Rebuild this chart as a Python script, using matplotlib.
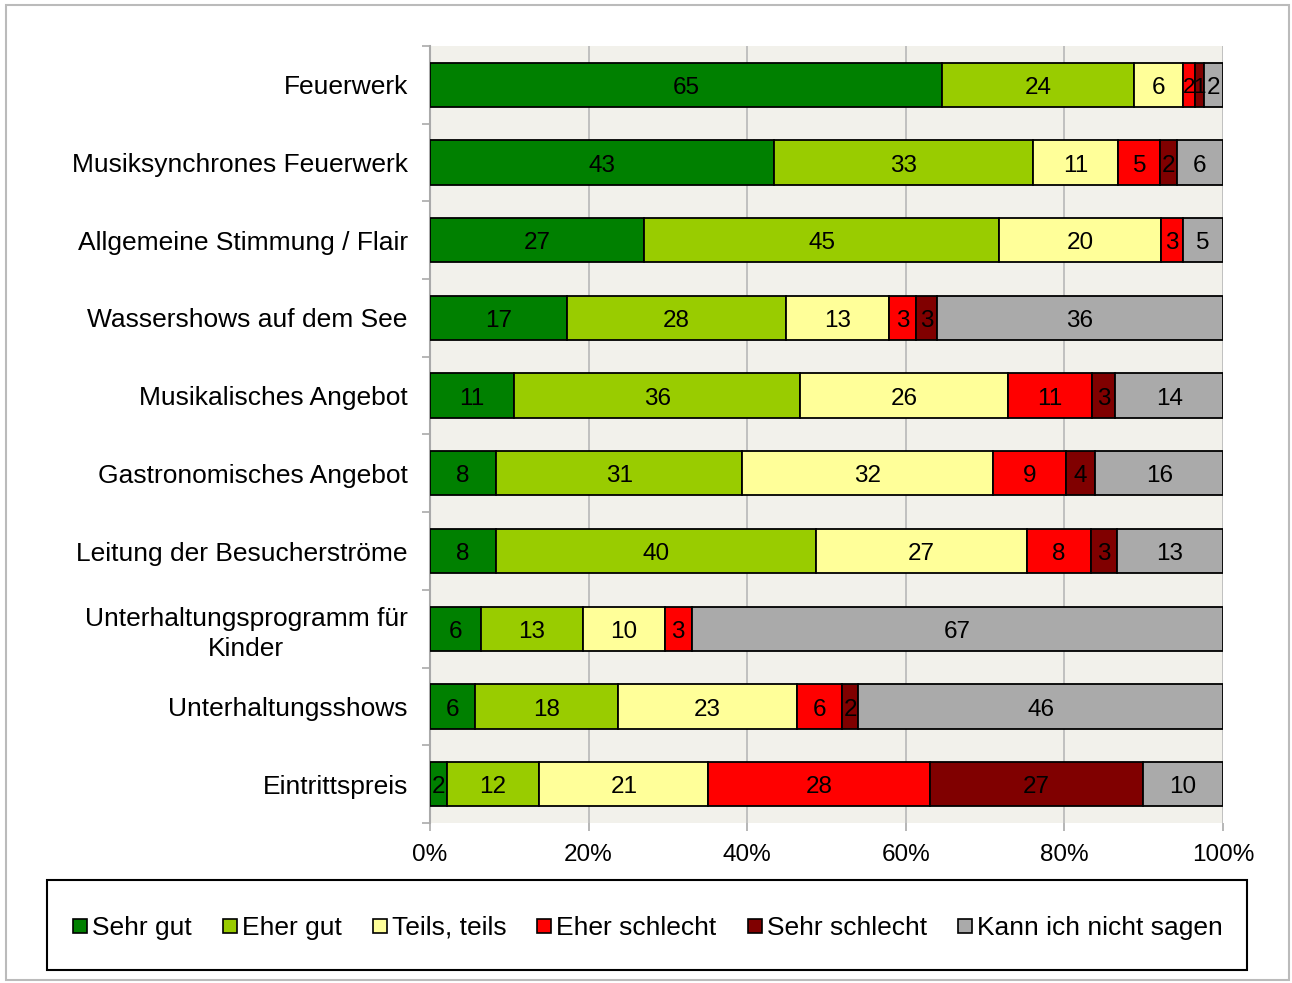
import matplotlib.pyplot as plt
import numpy as np
from matplotlib.patches import Rectangle

plt.rcParams['font.family'] = ['Liberation Sans', 'DejaVu Sans']

categories = ["Feuerwerk", "Musiksynchrones Feuerwerk", "Allgemeine Stimmung / Flair",
              "Wassershows auf dem See", "Musikalisches Angebot", "Gastronomisches Angebot",
              "Leitung der Besucherströme", "Unterhaltungsprogramm für\nKinder",
              "Unterhaltungsshows", "Eintrittspreis"]
series = ["Sehr gut", "Eher gut", "Teils, teils", "Eher schlecht", "Sehr schlecht",
          "Kann ich nicht sagen"]
colors = ["#008000", "#99cc00", "#ffff99", "#ff0000", "#800000", "#aaaaaa"]

sehr_gut = [64.6, 43.4, 27.0, 17.3, 10.6, 8.3, 8.3, 6.4, 5.7, 2.1]
eher_gut = [24.2, 32.6, 44.8, 27.6, 36.2, 31.1, 40.4, 12.9, 18.0, 11.7]
teils = [6.1, 10.7, 20.4, 13.0, 26.2, 31.6, 26.6, 10.3, 22.6, 21.3]
eher_schlecht = [1.6, 5.3, 2.8, 3.4, 10.6, 9.2, 8.2, 3.4, 5.7, 27.9]
sehr_schlecht = [1.1, 2.1, 0.0, 2.6, 3.0, 3.7, 3.2, 0.0, 2.0, 26.9]
kann_nicht = [2.4, 5.8, 5.0, 36.1, 13.6, 16.1, 13.4, 67.0, 46.0, 10.1]

data = np.array([sehr_gut, eher_gut, teils, eher_schlecht, sehr_schlecht, kann_nicht])
share = data / data.sum(axis=0) * 100

fig = plt.figure(figsize=(12.92, 9.83), dpi=100)
fig.patches.append(Rectangle((0.005, 0.003), 0.993, 0.992, transform=fig.transFigure,
                             fill=False, edgecolor="#bbbbbb", linewidth=1.5))
ax = fig.add_axes([0.3328, 0.1628, 0.6138, 0.7904])
ax.set_facecolor("#f2f1eb")

y = np.arange(len(categories))
left = np.zeros(len(categories))
for i in range(len(series)):
    ax.barh(y, share[i], left=left, height=0.57, color=colors[i], edgecolor="black",
            linewidth=1.3, label=series[i], zorder=3)
    for j in range(len(categories)):
        if data[i][j] > 0:
            # tiny segments get a slightly smaller label so neighbours don't collide
            fs = 17.5 if share[i][j] >= 2 else 16
            ax.text(left[j] + share[i][j] / 2, y[j] + 0.04, str(int(round(data[i][j]))),
                    ha="center", va="center", fontsize=fs, zorder=4)
    left = left + share[i]

ax.set_xlim(0, 100)
ax.set_ylim(len(categories) - 0.5, -0.5)
ax.set_xticks([0, 20, 40, 60, 80, 100])
ax.set_xticklabels(["0%", "20%", "40%", "60%", "80%", "100%"], fontsize=17.5)
ax.set_yticks(y)
ax.set_yticklabels(categories, fontsize=19, multialignment="center", linespacing=1.3)
ax.set_yticks(np.arange(len(categories) + 1) - 0.5, minor=True)
ax.tick_params(axis="y", which="major", length=0, pad=16)
ax.tick_params(axis="y", which="minor", length=6, color="#aaaaaa", width=1.2)
ax.tick_params(axis="x", length=6, color="#aaaaaa", width=1.2, pad=9)
ax.grid(axis="x", color="#b8b8b8", linewidth=1.2, zorder=0)
for s in ["top", "right", "bottom"]:
    ax.spines[s].set_visible(False)
ax.spines["left"].set_color("#aaaaaa")
ax.spines["left"].set_linewidth(1.5)

fig.patches.append(Rectangle((0.0364, 0.0132), 0.9287, 0.0916, transform=fig.transFigure,
                             fill=False, edgecolor="black", linewidth=1.5))
handles = [plt.Line2D([], [], marker="s", linestyle="", markersize=10, markerfacecolor=c,
                      markeredgecolor="black", markeredgewidth=1.2) for c in colors]
fig.legend(handles, series, loc="center", bbox_to_anchor=(0.5, 0.056), ncol=6,
           frameon=False, fontsize=19, handletextpad=0.05, columnspacing=1.05,
           handlelength=0.8)

fig.savefig("out.png", dpi=100)
